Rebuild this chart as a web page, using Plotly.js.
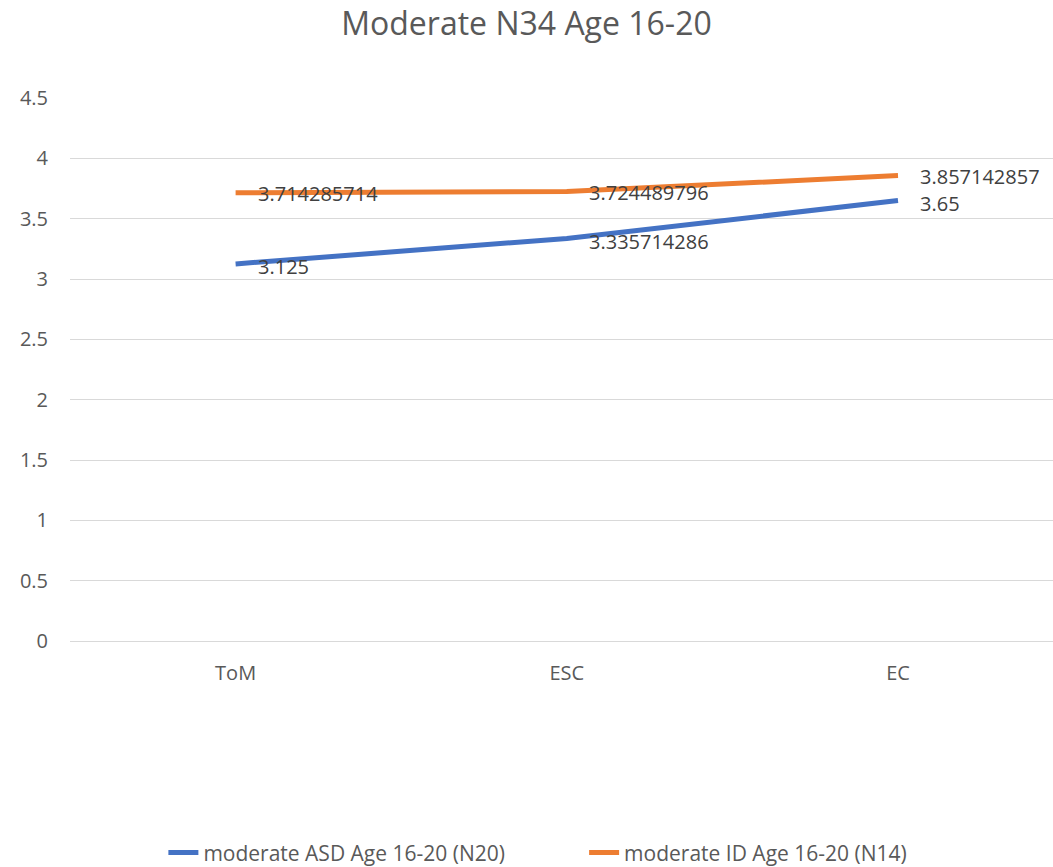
<!DOCTYPE html>
<html>
<head>
<meta charset="utf-8">
<script src="https://cdn.plot.ly/plotly-3.0.1.min.js"></script>
<style>html,body{margin:0;padding:0;background:#fff;}#chart{width:1053px;height:867px;}</style>
</head>
<body>
<div id="chart"></div>
<script>
const categories = ["ToM", "ESC", "EC"];
const asdValues = [3.125, 3.335714286, 3.65];
const idValues = [3.714285714, 3.724489796, 3.857142857];
const asdLabels = ["3.125", "3.335714286", "3.65"];
const idLabels = ["3.714285714", "3.724489796", "3.857142857"];
const seriesNames = ["moderate ASD Age 16-20 (N20)", "moderate ID Age 16-20 (N14)"];
const yTicks = [0, 0.5, 1, 1.5, 2, 2.5, 3, 3.5, 4, 4.5];
const yTickText = ["0", "0.5", "1", "1.5", "2", "2.5", "3", "3.5", "4", "4.5"];

const font = "Open Sans, Liberation Sans, sans-serif";
const traces = [
  {x: categories, y: asdValues, name: seriesNames[0], mode: "lines", legend: "legend",
   line: {color: "#4472C4", width: 5}, hoverinfo: "skip"},
  {x: categories, y: idValues, name: seriesNames[1], mode: "lines", legend: "legend2",
   line: {color: "#ED7D31", width: 5}, hoverinfo: "skip"}
];

const annotations = [];
function addLabels(vals, labels, yshift) {
  for (let i = 0; i < categories.length; i++) {
    annotations.push({x: categories[i], y: vals[i], text: labels[i], showarrow: false,
      xanchor: "left", yanchor: "middle", xshift: 20, yshift: yshift,
      font: {family: font, size: 20, color: "#404040"}});
  }
}
addLabels(asdValues, asdLabels, -3);
addLabels(idValues, idLabels, -1);

const legendBase = {orientation: "h", y: -0.39, yanchor: "middle", xanchor: "left",
  font: {size: 21, color: "#595959"}, bgcolor: "rgba(0,0,0,0)"};

const layout = {
  width: 1053, height: 867,
  margin: {l: 70, r: 0, t: 98, b: 226, autoexpand: false},
  paper_bgcolor: "#fff", plot_bgcolor: "#fff",
  font: {family: font, color: "#595959"},
  title: {text: "Moderate N34 Age 16-20", font: {family: font, size: 32, color: "#595959"},
          x: 0.5, xanchor: "center", xref: "container", y: 0.972, yanchor: "middle", yref: "container"},
  xaxis: {type: "category", range: [-0.5, 2.468], showgrid: false, zeroline: false, showline: false,
          ticks: "", ticklabelstandoff: 18, tickfont: {size: 20, color: "#595959"}, fixedrange: true},
  yaxis: {range: [0, 4.5], tickvals: yTicks, ticktext: yTickText, showgrid: true, gridcolor: "#d9d9d9",
          gridwidth: 1, zeroline: true, zerolinecolor: "#d9d9d9", zerolinewidth: 1, showline: false,
          ticks: "", ticklabelstandoff: 21, tickfont: {size: 20, color: "#595959"}, fixedrange: true},
  annotations: annotations,
  showlegend: true,
  legend: Object.assign({}, legendBase, {x: 0.095}),
  legend2: Object.assign({}, legendBase, {x: 0.523})
};
Plotly.newPlot("chart", traces, layout, {displayModeBar: false, staticPlot: true});
</script>
</body>
</html>
